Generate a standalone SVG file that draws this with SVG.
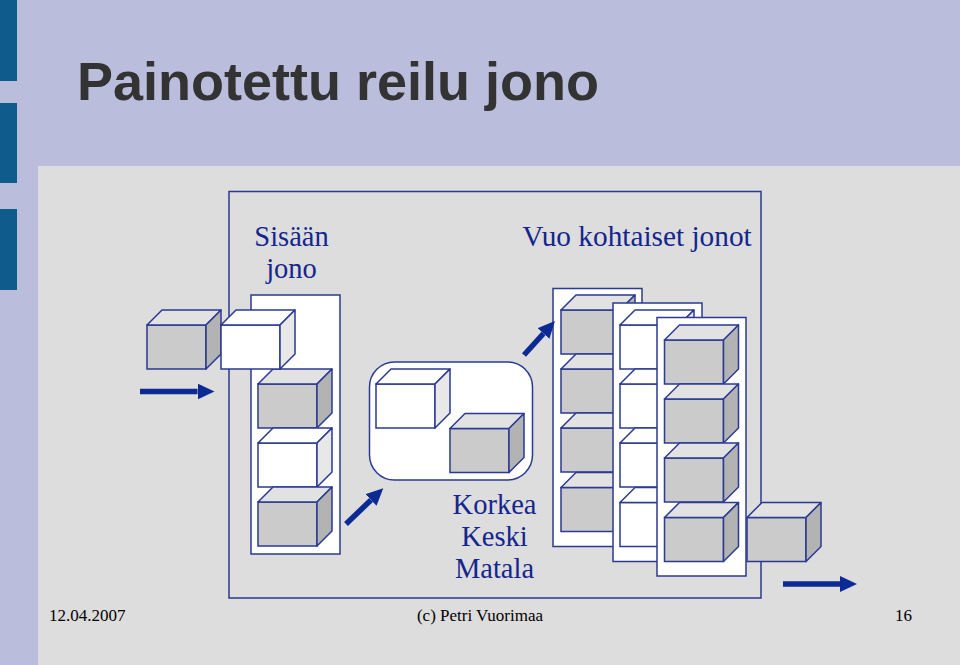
<svg xmlns="http://www.w3.org/2000/svg" xmlns:xlink="http://www.w3.org/1999/xlink" width="960" height="665" viewBox="0 0 960 665">
<style>
.ln{stroke:#2b3a92;stroke-width:1.5}
.box{fill:#ffffff;stroke:#2b3a92;stroke-width:1.5}
.lbl{font-family:"Liberation Serif","Times New Roman",serif;font-size:28.5px;fill:#14268e}
.ft{font-family:"Liberation Serif","Times New Roman",serif;font-size:17px;fill:#000}
.arr{stroke:#0b2a94;stroke-width:5.5;fill:none}
</style>
<defs>
<g id="cubeG">
<rect x="0" y="0" width="59" height="44" fill="#cbcbcb" class="ln"/>
<polygon points="0,0 15,-15 74,-15 59,0" fill="#e2e2e2" class="ln" stroke-linejoin="round"/>
<polygon points="59,0 74,-15 74,29 59,44" fill="#b3b3b3" class="ln" stroke-linejoin="round"/>
</g>
<g id="cubeW">
<rect x="0" y="0" width="59" height="44" fill="#ffffff" class="ln"/>
<polygon points="0,0 15,-15 74,-15 59,0" fill="#ffffff" class="ln" stroke-linejoin="round"/>
<polygon points="59,0 74,-15 74,29 59,44" fill="#e8e8e8" class="ln" stroke-linejoin="round"/>
</g>
<marker id="head" viewBox="0 0 17 16" refX="0" refY="8" markerWidth="17" markerHeight="16" markerUnits="userSpaceOnUse" orient="auto">
<path d="M0,0 L17,8 L0,16 z" fill="#0b2a94"/>
</marker>
</defs>
<!-- background -->
<rect x="0" y="0" width="960" height="665" fill="#babedc"/>
<rect x="38" y="166" width="922" height="499" fill="#dddddd"/>
<rect x="0" y="0" width="17" height="81" fill="#0f5b8c"/>
<rect x="0" y="103" width="17" height="80" fill="#0f5b8c"/>
<rect x="0" y="209" width="17" height="81" fill="#0f5b8c"/>
<text x="77" y="100" font-family="Liberation Sans, Arial, sans-serif" font-size="54" font-weight="bold" fill="#333333">Painotettu reilu jono</text>

<g id="frame">
<rect x="229" y="191.5" width="532" height="406.5" fill="none" class="ln"/>
</g>

<g id="input-queue">
<rect x="251" y="295" width="89" height="259" class="box"/>
<use xlink:href="#cubeG" x="258" y="384"/>
<use xlink:href="#cubeW" x="258" y="443"/>
<use xlink:href="#cubeG" x="258" y="502"/>
<text x="291.5" y="246" text-anchor="middle" class="lbl">Sisään</text>
<text x="291.5" y="278" text-anchor="middle" class="lbl">jono</text>
</g>

<g id="incoming">
<use xlink:href="#cubeG" x="147" y="325"/>
<use xlink:href="#cubeW" x="221" y="325"/>
</g>

<g id="classifier">
<rect x="369.5" y="362" width="163" height="118" rx="25" ry="25" class="box"/>
<use xlink:href="#cubeW" x="376" y="384"/>
<use xlink:href="#cubeG" x="450" y="428.5"/>
<text x="494.5" y="514" text-anchor="middle" class="lbl">Korkea</text>
<text x="494.5" y="546" text-anchor="middle" class="lbl">Keski</text>
<text x="494.5" y="578" text-anchor="middle" class="lbl">Matala</text>
</g>

<g id="flow-queue-1">
<rect x="553" y="288.5" width="89" height="258" class="box"/>
<use xlink:href="#cubeG" x="561" y="310"/>
<use xlink:href="#cubeG" x="561" y="369"/>
<use xlink:href="#cubeG" x="561" y="428"/>
<use xlink:href="#cubeG" x="561" y="487.5"/>
</g>
<g id="flow-queue-2">
<rect x="613" y="303" width="89" height="258.5" class="box"/>
<use xlink:href="#cubeW" x="620" y="325"/>
<use xlink:href="#cubeW" x="620" y="384"/>
<use xlink:href="#cubeW" x="620" y="443"/>
<use xlink:href="#cubeW" x="620" y="502.5"/>
</g>
<g id="flow-queue-3">
<rect x="657" y="317.5" width="89" height="258.5" class="box"/>
<use xlink:href="#cubeG" x="664.5" y="340"/>
<use xlink:href="#cubeG" x="664.5" y="399"/>
<use xlink:href="#cubeG" x="664.5" y="458"/>
<use xlink:href="#cubeG" x="664.5" y="517.5"/>
<text x="637" y="246" text-anchor="middle" class="lbl" style="font-size:29.3px">Vuo kohtaiset jonot</text>
</g>

<g id="outgoing">
<use xlink:href="#cubeG" x="747" y="517.5"/>
</g>

<g id="connectors">
<line x1="140" y1="391.5" x2="197.5" y2="391.5" class="arr" marker-end="url(#head)"/>
<line x1="346" y1="524" x2="371" y2="500" class="arr" marker-end="url(#head)"/>
<line x1="524" y1="355" x2="543.5" y2="333.5" class="arr" marker-end="url(#head)"/>
<line x1="783" y1="584" x2="840" y2="584" class="arr" marker-end="url(#head)"/>
</g>

<g id="footer">
<text x="49" y="621" class="ft">12.04.2007</text>
<text x="480" y="621" text-anchor="middle" class="ft">(c) Petri Vuorimaa</text>
<text x="912" y="621" text-anchor="end" class="ft">16</text>
</g>
</svg>
